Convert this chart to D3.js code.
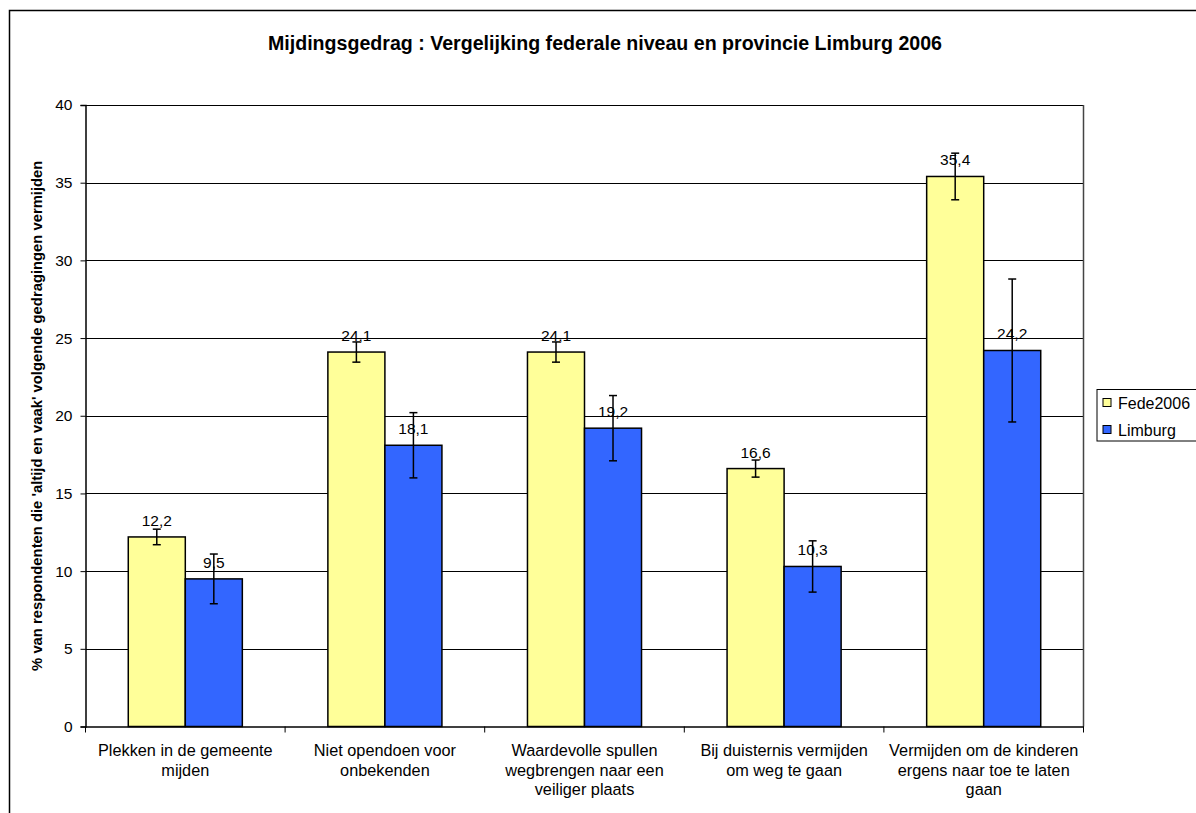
<!DOCTYPE html>
<html>
<head>
<meta charset="utf-8">
<script src="https://cdn.jsdelivr.net/npm/d3@7"></script>
<style>
  body{margin:0;background:#fff;}
  svg{display:block;font-family:"Liberation Sans",Arial,sans-serif;}
</style>
</head>
<body>
<svg id="chart"></svg>
<script>
// ---------- DATA ----------------------------------------------------------
const categories = [
  ['Plekken in de gemeente','mijden'],
  ['Niet opendoen voor','onbekenden'],
  ['Waardevolle spullen','wegbrengen naar een','veiliger plaats'],
  ['Bij duisternis vermijden','om weg te gaan'],
  ['Vermijden om de kinderen','ergens naar toe te laten','gaan']
];
const seriesNames = ['Fede2006','Limburg'];
const fedeValues    = [12.2, 24.1, 24.1, 16.6, 35.4];
const limburgValues = [9.5, 18.1, 19.2, 10.3, 24.2];
const fedeErrors    = [0.5, 0.65, 0.65, 0.55, 1.5];
const limburgErrors = [1.6, 2.1, 2.1, 1.65, 4.6];
const yTicks = [0,5,10,15,20,25,30,35,40];

// ---------- LAYOUT --------------------------------------------------------
const W = 1196, H = 813;
const P = {left:85.5, right:1083.5, top:105, bottom:726.5};
const COLORS = {Fede2006:'#FFFF99', Limburg:'#3366FF'};

const svg = d3.select('#chart').attr('width',W).attr('height',H);

// outer chart frame (runs past right/bottom edge)
svg.append('rect').attr('x',9.5).attr('y',10.5).attr('width',1300).attr('height',1000)
   .attr('fill','#fff').attr('stroke','#000').attr('stroke-width',1.5);

const catKeys = categories.map(c=>c.join(' '));
const x0 = d3.scaleBand().domain(catKeys).range([P.left,P.right]).paddingInner(0).paddingOuter(0);
const x1 = d3.scaleBand().domain(seriesNames).range([0,x0.bandwidth()]).paddingInner(0).paddingOuter(0.75);
const y  = d3.scaleLinear().domain([0,40]).range([P.bottom,P.top]);

const rows = catKeys.map((k,i)=>({
  key:k, lines:categories[i],
  vals:[
    {s:'Fede2006', v:fedeValues[i], e:fedeErrors[i]},
    {s:'Limburg',  v:limburgValues[i], e:limburgErrors[i]}
  ]
}));

// title
svg.append('text').attr('x',605).attr('y',50).attr('text-anchor','middle')
   .attr('font-weight','bold').attr('font-size','19.6px')
   .text('Mijdingsgedrag : Vergelijking federale niveau en provincie Limburg 2006');

// gridlines + plot border
const grid = svg.append('g');
grid.selectAll('line').data(yTicks.filter(d=>d>0)).enter().append('line')
  .attr('x1',P.left).attr('x2',P.right)
  .attr('y1',d=>Math.round(y(d))+0.5).attr('y2',d=>Math.round(y(d))+0.5)
  .attr('stroke','#000').attr('stroke-width',1);
svg.append('line').attr('x1',P.right).attr('x2',P.right).attr('y1',P.top).attr('y2',P.bottom)
   .attr('stroke','#444').attr('stroke-width',1.5);

// y axis
const yAxis = svg.append('g').attr('transform',`translate(${P.left},0)`)
  .call(d3.axisLeft(y).tickValues(yTicks).tickSize(5).tickPadding(8).tickFormat(d3.format('d')));
yAxis.select('.domain').attr('stroke','#000').attr('stroke-width',1.5);
yAxis.selectAll('.tick line').attr('stroke','#000');
yAxis.selectAll('text').attr('font-size','15.5px').attr('fill','#000').attr('font-family','Liberation Sans, Arial, sans-serif');

svg.append('text')
   .attr('transform',`translate(42,${(P.top+P.bottom)/2}) rotate(-90)`)
   .attr('text-anchor','middle').attr('font-weight','bold').attr('font-size','14.8px')
   .text("% van respondenten die 'altijd en vaak' volgende gedragingen vermijden");

// bars
const groups = svg.selectAll('g.cat').data(rows).enter().append('g').attr('class','cat')
  .attr('transform',d=>`translate(${x0(d.key)},0)`);

groups.selectAll('rect').data(d=>d.vals).enter().append('rect')
  .attr('x',d=>x1(d.s)).attr('y',d=>y(d.v))
  .attr('width',x1.bandwidth()).attr('height',d=>y(0)-y(d.v))
  .attr('fill',d=>COLORS[d.s]).attr('stroke','#000').attr('stroke-width',1.5);

// data labels
groups.selectAll('text.lbl').data(d=>d.vals).enter().append('text').attr('class','lbl')
  .attr('x',d=>x1(d.s)+x1.bandwidth()/2).attr('y',d=>y(d.v)-11)
  .attr('text-anchor','middle').attr('font-size','15.5px')
  .text(d=>d3.format('.1f')(d.v).replace('.',','));

// error bars
const eb = groups.selectAll('g.err').data(d=>d.vals).enter().append('g').attr('class','err')
  .attr('stroke','#000').attr('stroke-width',1.5);
eb.append('line')
  .attr('x1',d=>x1(d.s)+x1.bandwidth()/2).attr('x2',d=>x1(d.s)+x1.bandwidth()/2)
  .attr('y1',d=>y(d.v+d.e)).attr('y2',d=>y(d.v-d.e));
eb.append('line')
  .attr('x1',d=>x1(d.s)+x1.bandwidth()/2-4).attr('x2',d=>x1(d.s)+x1.bandwidth()/2+4)
  .attr('y1',d=>y(d.v+d.e)).attr('y2',d=>y(d.v+d.e));
eb.append('line')
  .attr('x1',d=>x1(d.s)+x1.bandwidth()/2-4).attr('x2',d=>x1(d.s)+x1.bandwidth()/2+4)
  .attr('y1',d=>y(d.v-d.e)).attr('y2',d=>y(d.v-d.e));

// x axis
const xAxis = svg.append('g').attr('transform',`translate(0,${P.bottom})`)
  .call(d3.axisBottom(x0).tickSize(0).tickFormat(''));
xAxis.select('.domain').attr('stroke','#000').attr('stroke-width',1.5);
// category boundary ticks
xAxis.selectAll('line.bt').data(catKeys.map(k=>x0(k)).concat([P.right])).enter().append('line')
  .attr('class','bt').attr('x1',d=>d).attr('x2',d=>d).attr('y1',0).attr('y2',6)
  .attr('stroke','#000').attr('stroke-width',1);

const catLbl = svg.selectAll('text.cat').data(rows).enter().append('text').attr('class','cat')
  .attr('text-anchor','middle').attr('font-size','16.3px')
  .attr('transform',d=>`translate(${x0(d.key)+x0.bandwidth()/2},756)`);
catLbl.selectAll('tspan').data(d=>d.lines).enter().append('tspan')
  .attr('x',0).attr('y',(d,i)=>i*19.5).text(d=>d);

// legend
const lg = svg.append('g').attr('transform','translate(1097,389.5)');
lg.append('rect').attr('x',0).attr('y',0).attr('width',120).attr('height',51.5)
  .attr('fill','#fff').attr('stroke','#000').attr('stroke-width',1);
seriesNames.forEach((s,i)=>{
  lg.append('rect').attr('x',6).attr('y',9+i*27).attr('width',8).attr('height',8)
    .attr('fill',COLORS[s]).attr('stroke','#000').attr('stroke-width',1);
  lg.append('text').attr('x',21).attr('y',19+i*27).attr('font-size','16px').text(s);
});
</script>
</body>
</html>
